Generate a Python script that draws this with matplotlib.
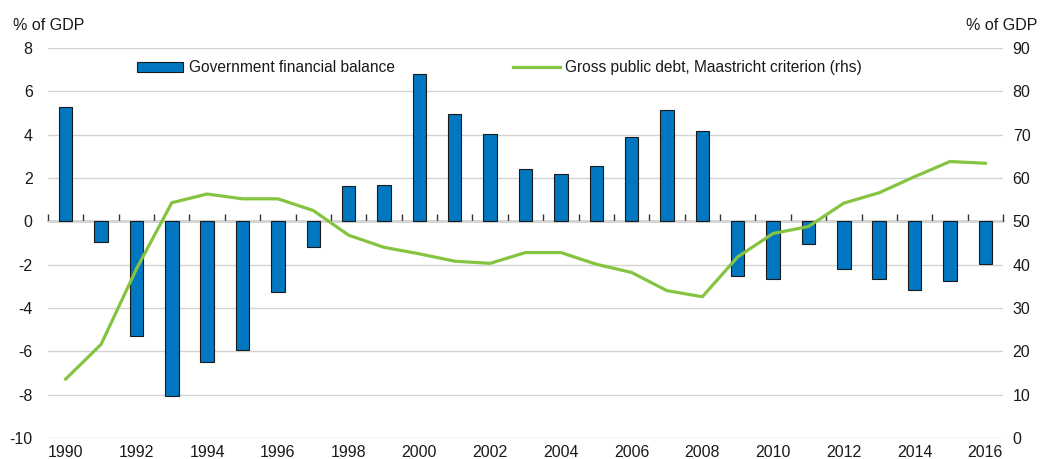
import matplotlib
matplotlib.use("Agg")
import matplotlib.pyplot as plt
import numpy as np

plt.rcParams['font.family'] = ['Liberation Sans', 'DejaVu Sans']
plt.rcParams['axes.unicode_minus'] = False

years = list(range(1990, 2017))
balance = [5.3, -0.95, -5.3, -8.05, -6.47, -5.93, -3.27, -1.2, 1.61, 1.66,
           6.8, 4.95, 4.04, 2.4, 2.18, 2.57, 3.89, 5.12, 4.15, -2.53,
           -2.64, -1.05, -2.21, -2.64, -3.18, -2.75, -1.95]
debt = [13.6, 21.6, 39.0, 54.3, 56.3, 55.2, 55.2, 52.5, 46.8, 44.0,
        42.5, 40.8, 40.3, 42.8, 42.8, 40.1, 38.2, 34.0, 32.6, 41.8,
        47.2, 48.8, 54.2, 56.6, 60.3, 63.8, 63.4]
label_years = [str(y) for y in years[::2]]

bar_color = '#0077C0'
line_color = '#84C441'
grid_color = '#D3D3D3'
text_color = '#1a1a1a'

fig = plt.figure(figsize=(10.42, 4.59), dpi=100)
ax = fig.add_axes([48/1042, 1-438/459, (1003-48)/1042, 390/459])

ax.set_xlim(years[0]-0.5, years[-1]+0.5)
ax.set_ylim(-10, 8)
ax.set_yticks(np.arange(-10, 9, 2))
ax.yaxis.grid(True, color=grid_color, lw=1)
ax.set_axisbelow(True)
for s in ax.spines.values():
    s.set_visible(False)

bars = ax.bar(years, balance, width=0.38, color=bar_color, edgecolor='#1a1a1a',
              linewidth=0.8, zorder=2, label='Government financial balance')

ax.set_xticks(years[::2])
ax.set_xticklabels(label_years)
ax.tick_params(axis='x', length=0, pad=5, labelsize=11.5, colors=text_color)
ax.tick_params(axis='y', length=0, pad=11, labelsize=11.5, colors=text_color)

# zero line with category boundary ticks (pointing upward)
sec = ax.secondary_xaxis(10/18)
sec.set_xticks([y - 0.5 for y in years] + [years[-1] + 0.5])
sec.xaxis.set_ticks_position('top')
sec.tick_params(axis='x', which='both', direction='out', length=5, width=1,
                color='#333333', top=True, bottom=False,
                labelbottom=False, labeltop=False)
for s in sec.spines.values():
    s.set_color('#333333')
    s.set_linewidth(1)

ax2 = ax.twinx()
ax2.set_ylim(0, 90)
ax2.set_yticks(np.arange(0, 91, 10))
for s in ax2.spines.values():
    s.set_visible(False)
ax2.tick_params(axis='y', length=0, pad=7, labelsize=11.5, colors=text_color)
line, = ax2.plot(years, debt, color=line_color, lw=2.3, zorder=3,
                 label='Gross public debt, Maastricht criterion (rhs)')

leg = ax.legend([bars, line], [bars.get_label(), line.get_label()], ncol=2,
                loc='center left', bbox_to_anchor=(0.093, 0.949), frameon=False,
                fontsize=11.2, handlelength=3.0, handletextpad=0.35,
                columnspacing=7.6, borderpad=0, borderaxespad=0)
for t in leg.get_texts():
    t.set_color(text_color)

fig.text(13/1042, 1-25/459, '% of GDP', fontsize=11.5, color=text_color,
         ha='left', va='center')
fig.text(1037/1042, 1-25/459, '% of GDP', fontsize=11.5, color=text_color,
         ha='right', va='center')

fig.savefig('out.png', dpi=100)
